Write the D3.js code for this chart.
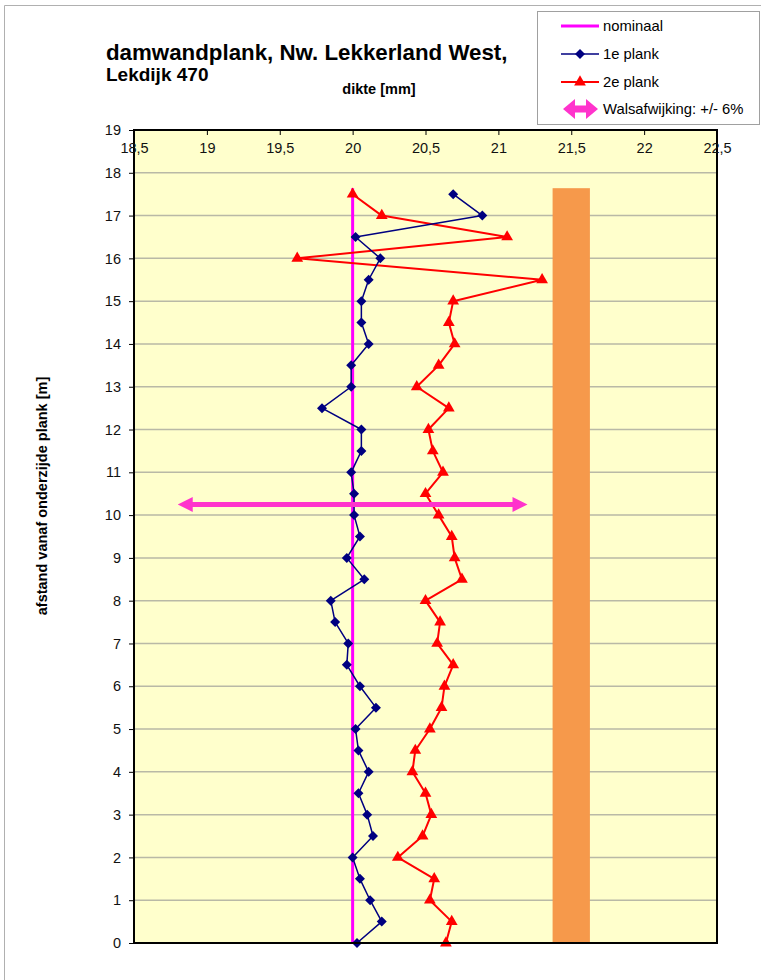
<!DOCTYPE html>
<html>
<head>
<meta charset="utf-8">
<script src="https://cdn.jsdelivr.net/npm/d3@7"></script>
<style>
  html, body { margin: 0; padding: 0; background: #ffffff; }
  svg { display: block; font-family: "Liberation Sans", Arial, sans-serif; }
</style>
</head>
<body>
<svg id="chart" width="761" height="980"></svg>
<script>
// Measurement depths along the plank [m]
const depths = [0, 0.5, 1, 1.5, 2, 2.5, 3, 3.5, 4, 4.5, 5, 5.5, 6, 6.5, 7, 7.5, 8, 8.5,
                9, 9.5, 10, 10.5, 11, 11.5, 12, 12.5, 13, 13.5, 14, 14.5, 15, 15.5, 16, 16.5, 17, 17.5];

// Measured wall thickness [mm], plank 1
const plank1 = [20.03, 20.20, 20.12, 20.05, 20.00, 20.14, 20.10, 20.04, 20.11, 20.04, 20.02, 20.16,
                20.05, 19.96, 19.97, 19.88, 19.85, 20.08, 19.96, 20.05, 20.01, 20.01, 19.99, 20.06,
                20.06, 19.79, 19.99, 19.99, 20.11, 20.06, 20.06, 20.11, 20.19, 20.02, 20.89, 20.69];

// Measured wall thickness [mm], plank 2
const plank2 = [20.64, 20.68, 20.53, 20.56, 20.31, 20.48, 20.54, 20.50, 20.41, 20.43, 20.53, 20.61,
                20.63, 20.69, 20.58, 20.60, 20.50, 20.75, 20.70, 20.68, 20.59, 20.50, 20.62, 20.55,
                20.52, 20.66, 20.44, 20.59, 20.70, 20.66, 20.69, 21.30, 19.62, 21.06, 20.20, 20.00];

// Nominal thickness, plank length and rolling tolerance
const nominal = 20;
const plankLength = 17.64;
const rollTolerance = 0.06;
const toleranceDepth = 10.25;
const barCenter = 21.5;

// Axis ticks
const xTicks = [18.5, 19, 19.5, 20, 20.5, 21, 21.5, 22, 22.5];
const yTicks = d3.range(0, 20);

// Legend labels
const legendLabels = ["nominaal", "1e plank", "2e plank", "Walsafwijking: +/- 6%"];

const svg = d3.select("#chart");
const fmt = d => String(d).replace(".", ",");

const plot = { left: 134, right: 717, top: 130, bottom: 943 };
const x = d3.scaleLinear().domain([18.5, 22.5]).range([plot.left, plot.right]);
const y = d3.scaleLinear().domain([0, 19]).range([plot.bottom, plot.top]);

// Outer chart-area frame (light grey)
svg.append("path")
  .attr("d", "M4.5,980 L4.5,5.5 L761,5.5")
  .attr("fill", "none").attr("stroke", "#b0b0b0").attr("stroke-width", 1);

// Plot background
svg.append("rect")
  .attr("x", plot.left).attr("y", plot.top)
  .attr("width", plot.right - plot.left).attr("height", plot.bottom - plot.top)
  .attr("fill", "#ffffcc");

// Horizontal grid lines
svg.append("g").selectAll("line")
  .data(yTicks.filter(t => t > 0 && t < 19))
  .join("line")
  .attr("x1", plot.left).attr("x2", plot.right)
  .attr("y1", d => y(d)).attr("y2", d => y(d))
  .attr("stroke", "#b9b9a6").attr("stroke-width", 1.5);

// Plank length column
const barHalf = 0.128;
svg.append("rect")
  .attr("x", x(barCenter - barHalf))
  .attr("y", y(plankLength))
  .attr("width", x(barCenter + barHalf) - x(barCenter - barHalf))
  .attr("height", y(0) - y(plankLength))
  .attr("fill", "#f6994b");

// Nominal thickness line
svg.append("line")
  .attr("x1", x(nominal)).attr("x2", x(nominal))
  .attr("y1", y(0)).attr("y2", y(plankLength))
  .attr("stroke", "#ff00ff").attr("stroke-width", 3);

// Double-headed arrow for the rolling tolerance
function doubleArrow(x0, x1, cy, shaft, headLen, headHalf) {
  const s = shaft / 2;
  return `M${x0},${cy} L${x0 + headLen},${cy - headHalf} L${x0 + headLen},${cy - s}` +
         ` L${x1 - headLen},${cy - s} L${x1 - headLen},${cy - headHalf} L${x1},${cy}` +
         ` L${x1 - headLen},${cy + headHalf} L${x1 - headLen},${cy + s}` +
         ` L${x0 + headLen},${cy + s} L${x0 + headLen},${cy + headHalf} Z`;
}

// Series lines and markers
const line = d3.line().x(d => x(d[1])).y(d => y(d[0]));
const s1 = depths.map((d, i) => [d, plank1[i]]);
const s2 = depths.map((d, i) => [d, plank2[i]]);

svg.append("path").datum(s2)
  .attr("d", line).attr("fill", "none")
  .attr("stroke", "#ff0000").attr("stroke-width", 2).attr("stroke-linejoin", "round");

svg.append("path").datum(s1)
  .attr("d", line).attr("fill", "none")
  .attr("stroke", "#000080").attr("stroke-width", 1.5).attr("stroke-linejoin", "round");

const diamond = d3.symbol().type(d3.symbolSquare).size(50)();
const triangle = d3.symbol().type(d3.symbolTriangle).size(60)();

svg.append("g").selectAll("path")
  .data(s2).join("path")
  .attr("d", triangle)
  .attr("transform", d => `translate(${x(d[1])},${y(d[0])})`)
  .attr("fill", "#ff0000");

svg.append("g").selectAll("path")
  .data(s1).join("path")
  .attr("d", diamond)
  .attr("transform", d => `translate(${x(d[1])},${y(d[0])}) rotate(45)`)
  .attr("fill", "#000080");

svg.append("path")
  .attr("d", doubleArrow(x(nominal * (1 - rollTolerance)), x(nominal * (1 + rollTolerance)),
                         y(toleranceDepth), 5, 15, 7.5))
  .attr("fill", "#ff33cc");

// Plot frame
svg.append("rect")
  .attr("x", plot.left).attr("y", plot.top)
  .attr("width", plot.right - plot.left).attr("height", plot.bottom - plot.top)
  .attr("fill", "none").attr("stroke", "#000").attr("stroke-width", 2);

// X axis (labels inside, along the top)
const xAxis = svg.append("g")
  .attr("transform", `translate(0,${plot.top})`)
  .call(d3.axisBottom(x).tickValues(xTicks).tickFormat(fmt).tickSize(5).tickPadding(8));
xAxis.select(".domain").remove();
xAxis.selectAll("text").attr("font-size", 14.5).attr("fill", "#111")
  .attr("font-family", "Liberation Sans, Arial, sans-serif");
xAxis.selectAll("line").attr("stroke", "#000");

// Y axis
const yAxis = svg.append("g")
  .attr("transform", `translate(${plot.left},0)`)
  .call(d3.axisLeft(y).tickValues(yTicks).tickFormat(d3.format("d")).tickSize(5).tickPadding(8));
yAxis.select(".domain").remove();
yAxis.selectAll("text").attr("font-size", 14.5).attr("fill", "#111")
  .attr("font-family", "Liberation Sans, Arial, sans-serif");
yAxis.selectAll("line").attr("stroke", "#000");

// Titles
svg.append("text").attr("x", 106).attr("y", 60)
  .attr("font-size", 22.3).attr("font-weight", "bold").attr("fill", "#000")
  .text("damwandplank, Nw. Lekkerland West,");
svg.append("text").attr("x", 106).attr("y", 81)
  .attr("font-size", 19).attr("font-weight", "bold").attr("fill", "#000")
  .text("Lekdijk 470");
svg.append("text").attr("x", 379).attr("y", 94)
  .attr("text-anchor", "middle")
  .attr("font-size", 14.5).attr("font-weight", "bold").attr("fill", "#000")
  .text("dikte [mm]");
svg.append("text")
  .attr("transform", "translate(47,496) rotate(-90)")
  .attr("text-anchor", "middle")
  .attr("font-size", 14.5).attr("font-weight", "bold").attr("fill", "#000")
  .text("afstand vanaf onderzijde plank  [m]");

// Legend
const lg = svg.append("g");
lg.append("rect").attr("x", 537.5).attr("y", 11.5).attr("width", 222).attr("height", 113)
  .attr("fill", "#fff").attr("stroke", "#a0a0a0").attr("stroke-width", 1);
const rows = [26, 54, 82, 109];
const lx0 = 561, lx1 = 599, lxm = 580;
lg.append("line").attr("x1", lx0).attr("x2", lx1).attr("y1", rows[0]).attr("y2", rows[0])
  .attr("stroke", "#ff00ff").attr("stroke-width", 3);
lg.append("line").attr("x1", lx0).attr("x2", lx1).attr("y1", rows[1]).attr("y2", rows[1])
  .attr("stroke", "#000080").attr("stroke-width", 1.5);
lg.append("path").attr("d", diamond)
  .attr("transform", `translate(${lxm},${rows[1]}) rotate(45)`).attr("fill", "#000080");
lg.append("line").attr("x1", lx0).attr("x2", lx1).attr("y1", rows[2]).attr("y2", rows[2])
  .attr("stroke", "#ff0000").attr("stroke-width", 2);
lg.append("path").attr("d", triangle)
  .attr("transform", `translate(${lxm},${rows[2]})`).attr("fill", "#ff0000");
lg.append("path").attr("d", doubleArrow(563, 598, rows[3], 7, 12, 10))
  .attr("fill", "#ff33cc");
lg.selectAll("text.lab").data(legendLabels).join("text")
  .attr("class", "lab")
  .attr("x", 603).attr("y", (d, i) => rows[i]).attr("dy", "0.35em")
  .attr("font-size", 14.8).attr("fill", "#000")
  .text(d => d);
</script>
</body>
</html>
